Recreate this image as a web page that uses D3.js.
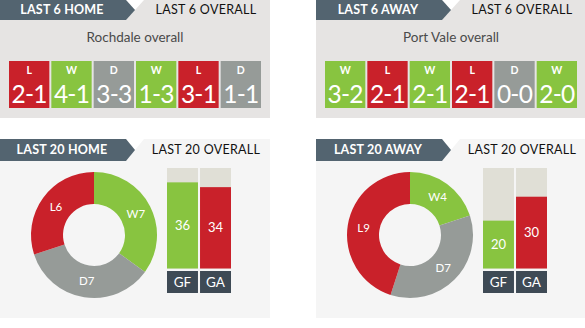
<!DOCTYPE html>
<html><head><meta charset="utf-8">
<script src="https://cdn.jsdelivr.net/npm/d3@7"></script>
<style>
html,body{margin:0;padding:0;background:#fff;}
svg{display:block;font-family:Lato,"Open Sans",sans-serif;}
</style></head>
<body>
<svg id="c" width="585" height="328"></svg>
<script>
// ---- data ----
const teams = ["Rochdale", "Port Vale"];
const last6Tabs = ["LAST 6 HOME", "LAST 6 AWAY"];
const last6Overall = "LAST 6 OVERALL";
const last20Tabs = ["LAST 20 HOME", "LAST 20 AWAY"];
const last20Overall = "LAST 20 OVERALL";
const rochdaleResults = ["L", "W", "D", "W", "L", "D"];
const rochdaleScores = ["2-1", "4-1", "3-3", "1-3", "3-1", "1-1"];
const portValeResults = ["W", "L", "W", "L", "D", "W"];
const portValeScores = ["3-2", "2-1", "2-1", "2-1", "0-0", "2-0"];
const wdlKeys = ["W", "D", "L"];
const rochdaleWDL = [7, 7, 6];
const portValeWDL = [4, 7, 9];
const goalKeys = ["GF", "GA"];
const rochdaleGoals = [36, 34];
const portValeGoals = [20, 30];
const goalMax = 42;

const C = {W: "#88c440", L: "#c9212a", D: "#969b98", tab: "#536470", box: "#3e4a55", barBg: "#e0dfd6",
  topBg: "#e6e4e3", botBg: "#f5f5f5"};

const svg = d3.select("#c");
const panels = [
  {x0: 0, w: 270, team: teams[0], tab6: last6Tabs[0], tab20: last20Tabs[0], res: rochdaleResults, sc: rochdaleScores, wdl: rochdaleWDL, goals: rochdaleGoals},
  {x0: 316, w: 269, team: teams[1], tab6: last6Tabs[1], tab20: last20Tabs[1], res: portValeResults, sc: portValeScores, wdl: portValeWDL, goals: portValeGoals}
];

function tab(g, y, h, label, other) {
  g.append("path").attr("d", `M126,${y}L144,${y}L135,${y + h / 2}Z`).attr("fill", "#fff");
  g.append("path").attr("d", `M0,${y}L126,${y}L135,${y + h / 2}L126,${y + h}L0,${y + h}Z`).attr("fill", C.tab);
  g.append("text").attr("x", 62).attr("y", y + h / 2 + 4.4).attr("text-anchor", "middle")
    .attr("fill", "#fff").attr("font-weight", "bold").attr("font-size", 12.5).attr("letter-spacing", 0.2).text(label);
  g.append("text").attr("x", 206).attr("y", y + h / 2 + 4.4).attr("text-anchor", "middle")
    .attr("fill", "#111").attr("font-size", 12.5).attr("letter-spacing", 0.3).text(other);
}

panels.forEach(p => {
  const g = svg.append("g").attr("transform", `translate(${p.x0},0)`);
  // top panel
  g.append("rect").attr("x", 0).attr("y", 0).attr("width", p.w).attr("height", 118).attr("fill", C.topBg);
  tab(g, 0, 20, p.tab6, last6Overall);
  g.append("text").attr("x", 135).attr("y", 42).attr("text-anchor", "middle").attr("fill", "#4a4a4a")
    .attr("font-size", 13.5).text(p.team + " overall");
  const xb = d3.scaleBand().domain(d3.range(p.res.length)).range([9, 261]).paddingInner(2 / 42);
  const cells = g.selectAll("g.cell").data(p.res.map((r, i) => ({r, s: p.sc[i], i}))).join("g").attr("class", "cell")
    .attr("transform", d => `translate(${xb(d.i)},61)`);
  cells.append("rect").attr("width", xb.bandwidth()).attr("height", 47).attr("fill", d => C[d.r]);
  cells.append("text").attr("x", xb.bandwidth() / 2).attr("y", 12.5).attr("text-anchor", "middle")
    .attr("fill", "#fff").attr("font-weight", "bold").attr("font-size", 10.5).text(d => d.r);
  cells.append("text").attr("x", xb.bandwidth() / 2).attr("y", 41.5).attr("text-anchor", "middle")
    .attr("fill", "#fff").attr("font-size", 24.5).attr("letter-spacing", -0.8).text(d => d.s);

  // bottom panel
  g.append("rect").attr("x", 0).attr("y", 139).attr("width", p.w).attr("height", 179).attr("fill", C.botBg);
  tab(g, 139, 22, p.tab20, last20Overall);

  // donut
  const pie = d3.pie().sort(null).value(d => d.v);
  const arcs = pie(wdlKeys.map((k, i) => ({k, v: p.wdl[i]})));
  const arc = d3.arc().innerRadius(31).outerRadius(63);
  const dg = g.append("g").attr("transform", "translate(94,235)");
  dg.selectAll("path").data(arcs).join("path").attr("d", arc).attr("fill", d => C[d.data.k]);
  dg.selectAll("text").data(arcs).join("text")
    .attr("transform", d => `translate(${arc.centroid(d)})`).attr("dy", "0.35em")
    .attr("text-anchor", "middle").attr("fill", "#fff").attr("font-size", 11.5)
    .text(d => d.data.k + d.data.v);

  // goal bars
  const xg = d3.scaleBand().domain(goalKeys).range([167, 231]).paddingInner(2 / 32);
  const yg = d3.scaleLinear().domain([0, goalMax]).range([268.5, 168]);
  const gd = goalKeys.map((k, i) => ({k, v: p.goals[i]}));
  g.selectAll("rect.bg").data(gd).join("rect").attr("class", "bg")
    .attr("x", d => xg(d.k)).attr("y", yg(goalMax)).attr("width", xg.bandwidth())
    .attr("height", yg(0) - yg(goalMax)).attr("fill", C.barBg);
  g.selectAll("rect.bar").data(gd).join("rect").attr("class", "bar")
    .attr("x", d => xg(d.k)).attr("y", d => yg(d.v)).attr("width", xg.bandwidth())
    .attr("height", d => yg(0) - yg(d.v)).attr("fill", d => d.k === "GF" ? C.W : C.L);
  g.selectAll("text.val").data(gd).join("text").attr("class", "val")
    .attr("x", d => xg(d.k) + xg.bandwidth() / 2).attr("y", d => (yg(d.v) + yg(0)) / 2 + 4.5)
    .attr("text-anchor", "middle").attr("fill", "#fff").attr("font-size", 13).text(d => d.v);
  g.selectAll("rect.lab").data(gd).join("rect").attr("class", "lab")
    .attr("x", d => xg(d.k)).attr("y", 271).attr("width", xg.bandwidth()).attr("height", 22).attr("fill", C.box);
  g.selectAll("text.lab").data(gd).join("text").attr("class", "lab")
    .attr("x", d => xg(d.k) + xg.bandwidth() / 2).attr("y", 286.5)
    .attr("text-anchor", "middle").attr("fill", "#fff").attr("font-size", 13.5).text(d => d.k);
});
</script>
</body></html>
